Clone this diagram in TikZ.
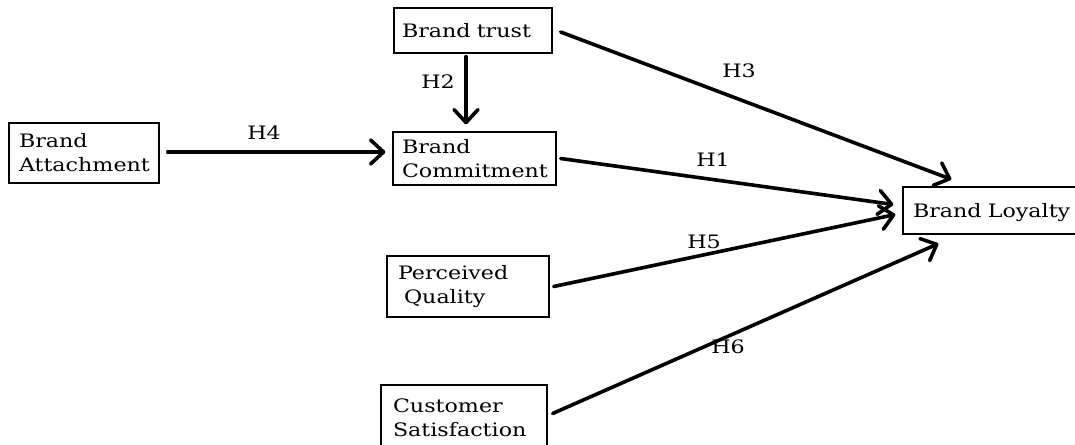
\documentclass[tikz,border=0pt]{standalone}
\usepackage{fontspec}
\setmainfont{DejaVu Serif}[FakeStretch=1.2]
\usetikzlibrary{arrows.meta,calc}
\begin{document}
\begin{tikzpicture}[x=1pt,y=-1pt,
  box/.style={draw, line width=1.3pt, inner sep=0pt, align=left,
     font=\fontsize{18.5}{24}\selectfont},
  lab/.style={font=\fontsize{18.5}{20}\selectfont, inner sep=0pt},
  arr/.style={line width=3.6pt, line cap=round, line join=round,
     -{Straight Barb[length=13pt,width=24pt,line width=3.6pt,round]}}]
\useasboundingbox[fill=white] (0,0) rectangle (1075,444);
\node[box, minimum width=158pt, minimum height=45pt, text width=142pt] (trust) at (473,30.5) {Brand trust};
\node[box, minimum width=163pt, minimum height=53pt, text width=145pt] (commit) at (474.5,158.5) {Brand\\Commitment};
\node[box, minimum width=150pt, minimum height=60pt, text width=130pt] (att) at (84,153) {Brand\\Attachment};
\node[box, minimum width=177pt, minimum height=47pt, text width=157pt, text depth=0pt] (loyal) at (991.5,210.5) {\mbox{Brand Loyalty}};
\node[box, minimum width=162pt, minimum height=61pt, text width=140pt] (pq) at (468,286.5) {Perceived\\\hspace*{6pt}Quality};
\node[box, minimum width=166pt, minimum height=65pt, text width=142pt] (cs) at (464,417.5) {Customer\\Satisfaction};

\draw[arr] ($(trust.south)+(-7,3)$) -- ($(commit.north)+(-8.5,-7)$);
\draw[arr] ($(att.east)+(8,-1)$) -- ($(commit.west)+(-7,-6.5)$);
\draw[arr] ($(trust.east)+(8,1.5)$) -- ($(loyal.north west)+(49,-7)$);
\draw[arr] ($(commit.east)+(4,0)$) -- ($(loyal.west)+(-9,-6)$);
\draw[arr] ($(pq.east)+(4,0)$) -- ($(loyal.west)+(-7,4)$);
\draw[arr] ($(cs.east)+(5,-4)$) -- ($(loyal.south west)+(36,9)$);

\node[lab] (h2) at (438,82) {H2};
\node[lab] (h4) at (264,133) {H4};
\node[lab] (h3) at (739,71) {H3};
\node[lab] (h1) at (713,160) {H1};
\node[lab] (h5) at (704,242) {H5};
\node[lab] (h6) at (728,347) {H6};
\end{tikzpicture}
\end{document}
